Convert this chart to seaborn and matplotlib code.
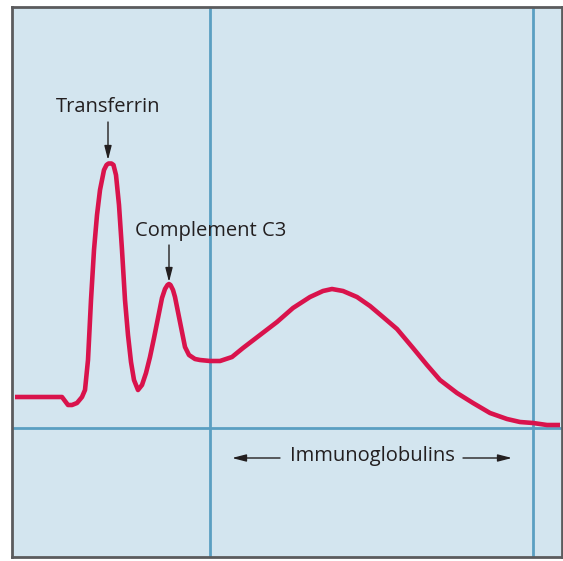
import matplotlib
matplotlib.use("Agg")
import matplotlib.pyplot as plt
import seaborn as sns
import pandas as pd

# Serum protein electrophoresis trace (migration distance vs. density above baseline)
migration = [3, 50, 53, 56, 60, 65, 70, 73, 76, 79, 82, 85, 88, 92, 94.5, 96.5, 99.5, 101.5,
             104, 107, 110, 113, 116, 119, 122, 126, 130, 134, 138, 142, 146, 150, 153,
             155.5, 157, 158.5, 161, 163, 166, 170, 173, 177, 183, 188, 198, 208, 220, 231,
             248, 265, 281, 298, 311, 320, 331, 345, 358, 371, 385, 401, 415, 428, 445,
             461, 478, 495, 508, 521, 535, 548]
density = [31, 31, 27, 23, 23, 25, 31, 38, 68, 128, 178, 213, 238, 258, 263, 264.5, 264.5, 263,
           253, 223, 178, 128, 93, 66, 48, 38, 43, 55, 71, 90, 110, 130, 139,
           143, 144, 143, 138, 131, 116, 96, 81, 73, 69, 68, 67, 67, 71, 80,
           93, 106, 120, 131, 137, 139, 137, 131, 122, 111, 99, 80, 63, 48, 35,
           25, 15, 9, 6, 5, 3, 3]

# Zone boundaries and baseline
zone_edges = [198, 521]
baseline = 0

labels = ["Transferrin", "Complement C3", "Immunoglobulins"]
transferrin_peak = (96, 265)
c3_peak = (157, 144)

bg = "#d3e5ef"
grid_blue = "#5a9fc2"
trace_red = "#d9134c"
ink = "#231f20"

sns.set_theme(style="white")
plt.rcParams["font.family"] = ["Open Sans", "DejaVu Sans"]

fig = plt.figure(figsize=(5.63, 5.61), dpi=100)
ax = fig.add_axes([12 / 563, 4 / 561, 550 / 563, 550 / 561])
ax.set_facecolor(bg)

df = pd.DataFrame({"migration": migration, "density": density})

for xe in zone_edges:
    ax.axvline(xe, color=grid_blue, lw=2.0, zorder=1)
ax.axhline(baseline, color=grid_blue, lw=2.0, zorder=1)

sns.lineplot(data=df, x="migration", y="density", ax=ax, color=trace_red,
             lw=3.3, zorder=3, solid_capstyle="butt", solid_joinstyle="round")

ax.set_xlim(0, 550)
ax.set_ylim(-129, 421)
ax.set_xticks([])
ax.set_yticks([])
ax.set_xlabel("")
ax.set_ylabel("")
for s in ax.spines.values():
    s.set_visible(True)
    s.set_color("#5b5b5d")
    s.set_linewidth(2.0)

arrow_kw = dict(arrowstyle="-|>,head_length=0.7,head_width=0.18", color=ink, lw=1.0,
                shrinkA=0, shrinkB=0)

fs = 14.5

# Transferrin
ax.text(transferrin_peak[0], 321, labels[0], ha="center", va="center",
        fontsize=fs, color=ink)
ax.annotate("", xy=(transferrin_peak[0], 268), xytext=(transferrin_peak[0], 306),
            arrowprops=arrow_kw)

# Complement C3
ax.text(199, 197, labels[1], ha="center", va="center", fontsize=fs, color=ink)
ax.annotate("", xy=(c3_peak[0], 146), xytext=(c3_peak[0], 183), arrowprops=arrow_kw)

# Immunoglobulins span
ax.text(360, -28, labels[2], ha="center", va="center", fontsize=fs, color=ink)
ax.annotate("", xy=(220, -30), xytext=(268, -30), arrowprops=arrow_kw)
ax.annotate("", xy=(500, -30), xytext=(451, -30), arrowprops=arrow_kw)

fig.savefig("out.png", dpi=100)
